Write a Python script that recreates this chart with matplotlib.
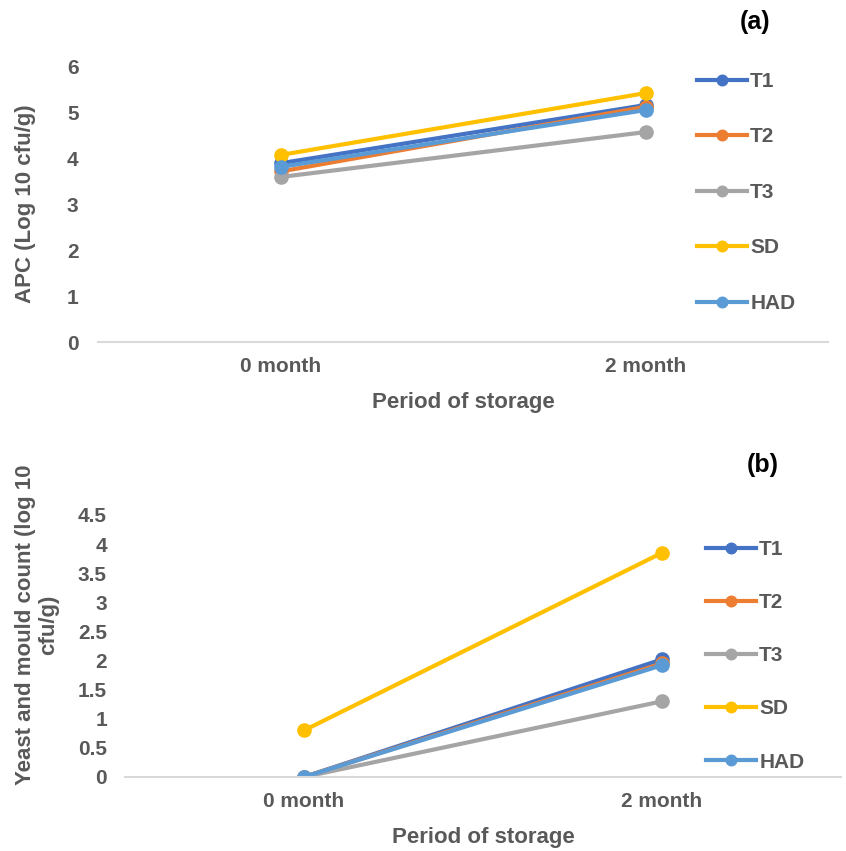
import matplotlib
matplotlib.use("Agg")
import matplotlib.pyplot as plt

plt.rcParams['font.family'] = ['Liberation Sans', 'DejaVu Sans']
plt.rcParams['font.weight'] = 'bold'

categories = ["0 month", "2 month"]
series = ["T1", "T2", "T3", "SD", "HAD"]
colors = ["#4472C4", "#ED7D31", "#A5A5A5", "#FFC000", "#5B9BD5"]

apc_T1 = [3.90, 5.17]
apc_T2 = [3.72, 5.13]
apc_T3 = [3.60, 4.58]
apc_SD = [4.08, 5.43]
apc_HAD = [3.82, 5.06]

ym_T1 = [0.0, 2.02]
ym_T2 = [0.0, 1.95]
ym_T3 = [0.0, 1.30]
ym_SD = [0.80, 3.85]
ym_HAD = [0.0, 1.92]

apc = [apc_T1, apc_T2, apc_T3, apc_SD, apc_HAD]
ym = [ym_T1, ym_T2, ym_T3, ym_SD, ym_HAD]

W, H = 846, 851
fig = plt.figure(figsize=(W / 100, H / 100), dpi=100)

def px_axes(l, r, t, b):
    return fig.add_axes([l / W, 1 - b / H, (r - l) / W, (b - t) / H])

grey = "#595959"
TICK = 15
TITLE = 16

def style(ax, ymax, ticks, ticklabels):
    ax.set_xlim(-0.5, 1.5)
    ax.set_ylim(0, ymax)
    ax.set_xticks(range(len(categories)))
    ax.set_xticklabels(categories)
    ax.set_yticks(ticks)
    ax.set_yticklabels(ticklabels)
    for s in ["top", "right", "left"]:
        ax.spines[s].set_visible(False)
    ax.spines["bottom"].set_color("#D9D9D9")
    ax.spines["bottom"].set_linewidth(1.5)
    ax.tick_params(length=0, labelsize=TICK, labelcolor=grey)
    for lab in ax.get_xticklabels() + ax.get_yticklabels():
        lab.set_fontweight('bold')

def legend(ax, x, y, spacing):
    leg = ax.legend(loc='upper left', bbox_to_anchor=(x / W, 1 - y / H), bbox_transform=fig.transFigure,
                    frameon=False, fontsize=TICK, handlelength=2.4, handletextpad=0.15,
                    labelspacing=spacing, borderaxespad=0, borderpad=0, markerscale=0.8)
    for t in leg.get_texts():
        t.set_color(grey)
        t.set_fontweight('bold')
    return leg

# Top panel
ax1 = px_axes(98, 828, 67, 342)
for name, vals, c in zip(series, apc, colors):
    ax1.plot(range(len(categories)), vals, color=c, lw=3, marker='o', ms=9.5, label=name)
style(ax1, 6, [0, 1, 2, 3, 4, 5, 6], ["0", "1", "2", "3", "4", "5", "6"])
ax1.tick_params(axis='y', pad=14)
ax1.tick_params(axis='x', pad=11)
ax1.set_xlabel("Period of storage", fontsize=TITLE, color=grey, fontweight='bold', labelpad=11)
fig.text(26 / W, 1 - 204 / H, "APC (Log 10 cfu/g)", rotation=90, ha='center', va='center',
         fontsize=TITLE, color=grey, fontweight='bold')
legend(ax1, 697, 72, 1.75)
fig.text(755 / W, 1 - 22 / H, "(a)", ha='center', va='center', fontsize=18, fontweight='bold', color='black')

# Bottom panel
ax2 = px_axes(125, 841, 515, 777)
for name, vals, c in zip(series, ym, colors):
    ax2.plot(range(len(categories)), vals, color=c, lw=3, marker='o', ms=9.5, label=name)
yt = [0, 0.5, 1, 1.5, 2, 2.5, 3, 3.5, 4, 4.5]
style(ax2, 4.5, yt, ["0", "0.5", "1", "1.5", "2", "2.5", "3", "3.5", "4", "4.5"])
ax2.tick_params(axis='y', pad=13)
ax2.tick_params(axis='x', pad=11)
ax2.set_xlabel("Period of storage", fontsize=TITLE, color=grey, fontweight='bold', labelpad=11)
fig.text(37 / W, 1 - 625 / H, "Yeast and mould count (log 10\ncfu/g)", rotation=90, ha='center', va='center',
         fontsize=TITLE, color=grey, fontweight='bold', multialignment='center', linespacing=1.15)
legend(ax2, 706, 540, 1.64)
fig.text(763 / W, 1 - 465 / H, "(b)", ha='center', va='center', fontsize=18, fontweight='bold', color='black')

fig.savefig("out.png", dpi=100, facecolor='white')
